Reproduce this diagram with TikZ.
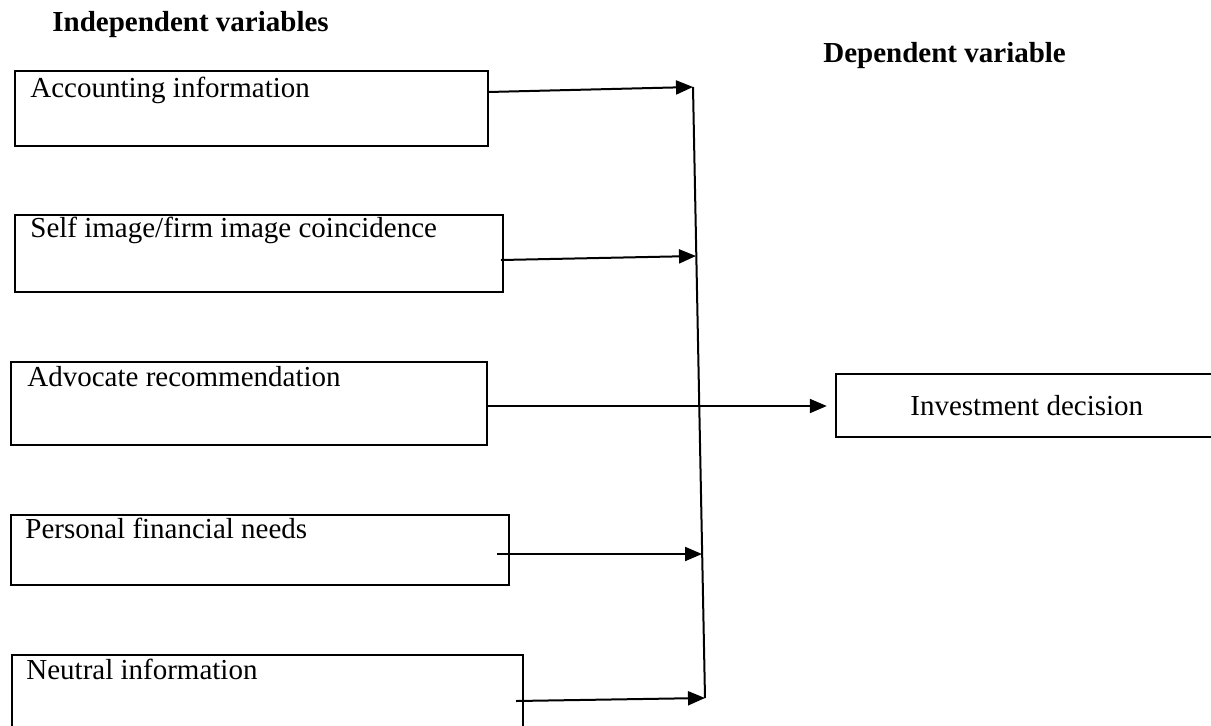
\documentclass[tikz,border=0pt]{standalone}
\usepackage{fontspec}
\setmainfont{Liberation Serif}
\usetikzlibrary{arrows.meta,fit}
\begin{document}
\begin{tikzpicture}[x=0.5pt,y=-0.5pt,
  box/.style={draw,line width=1.2pt,inner sep=0pt},
  lbl/.style={anchor=base west,inner sep=0pt,font=\fontsize{14.5}{17}\selectfont},
  ttl/.style={anchor=base west,inner sep=0pt,font=\fontsize{14.5}{17}\selectfont\bfseries},
  arr/.style={line width=1pt,-{Triangle[length=8.5pt,width=7pt]}},
  vline/.style={line width=1pt}]
\useasboundingbox (0,0) rectangle (1211,725);
\clip (0,0) rectangle (1211,725);

\node[ttl] (tin) at (52,31) {Independent variables};
\node[ttl] (tdep) at (823,62) {Dependent variable};

\node[box, fit={(15,71) (488,146)}] (b1) {};
\node[box, fit={(15,215) (503,292)}] (b2) {};
\node[box, fit={(11,362) (487,445)}] (b3) {};
\node[box, fit={(11,515) (509,585)}] (b4) {};
\node[box, fit={(12,655) (523,760)}] (b5) {};
\node[box, fit={(836,374) (1260,437)}] (bd) {};

\node[lbl] (t1) at (30,97) {Accounting information};
\node[lbl] (t2) at (30,237) {Self image/firm image coincidence};
\node[lbl] (t3) at (27,386) {Advocate recommendation};
\node[lbl] (t4) at (25,538) {Personal financial needs};
\node[lbl] (t5) at (26,679) {Neutral information};
\node[lbl] (td) at (910,415) {Investment decision};

\coordinate (vtop) at (693,87);
\coordinate (vbot) at (705,698);
\draw[vline] (vtop) -- (vbot);

\coordinate (s1) at (488,92);
\coordinate (s2) at (501,260);
\coordinate (s3) at (487,406);
\coordinate (s4) at (497,554);
\coordinate (s5) at (516,701);
\coordinate (e2) at (696,256);
\coordinate (e4) at (702,554);
\coordinate (e3) at (bd.west |- s3);

\draw[arr] (s1) -- (vtop);
\draw[arr] (s2) -- (e2);
\draw[arr] (s3) -- ([xshift=-4pt]e3);
\draw[arr] (s4) -- (e4);
\draw[arr] (s5) -- (vbot);
\end{tikzpicture}
\end{document}
